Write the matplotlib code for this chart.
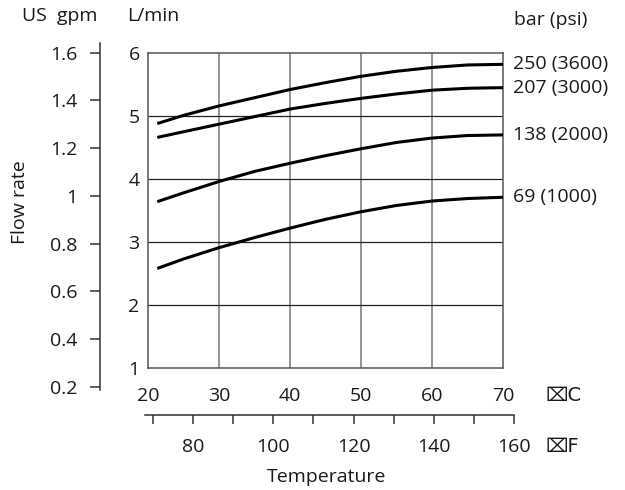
import matplotlib
matplotlib.use("Agg")
import matplotlib.pyplot as plt
import numpy as np

plt.rcParams['font.family'] = ['Open Sans', 'DejaVu Sans']

# Data (temperature in °C, flow in L/min)
temps = [21.3, 25, 30, 35, 40, 45, 50, 55, 60, 65, 70]
flow_250 = [4.88, 5.01, 5.16, 5.29, 5.42, 5.53, 5.63, 5.71, 5.77, 5.81, 5.82]
flow_207 = [4.66, 4.75, 4.87, 4.99, 5.11, 5.20, 5.28, 5.35, 5.41, 5.44, 5.45]
flow_138 = [3.64, 3.78, 3.96, 4.12, 4.25, 4.37, 4.48, 4.58, 4.65, 4.69, 4.70]
flow_69 = [2.58, 2.73, 2.91, 3.07, 3.22, 3.36, 3.48, 3.58, 3.65, 3.69, 3.71]
series = [flow_250, flow_207, flow_138, flow_69]
series_labels = ["250 (3600)", "207 (3000)", "138 (2000)", "69 (1000)"]

c_ticks = [20, 30, 40, 50, 60, 70]
l_ticks = [1, 2, 3, 4, 5, 6]
gpm_ticks = [0.2, 0.4, 0.6, 0.8, 1, 1.2, 1.4, 1.6]
gpm_labels = ["0.2", "0.4", "0.6", "0.8", "1", "1.2", "1.4", "1.6"]
f_major = [80, 100, 120, 140, 160]
f_minor = [70, 90, 110, 130, 150]

W, H = 625, 490
fig = plt.figure(figsize=(W / 100, H / 100), dpi=100)

def rect(x0, y0, x1, y1):
    return [x0 / W, 1 - y1 / H, (x1 - x0) / W, (y1 - y0) / H]

fs = 14
tc = '#1a1a1a'

# Main axes
ax = fig.add_axes(rect(148, 53, 503, 368))
ax.set_xlim(20, 70)
ax.set_ylim(1, 6)
ax.set_xticks(c_ticks)
ax.set_yticks(l_ticks)
ax.set_xticklabels([str(t) for t in c_ticks])
ax.set_yticklabels([str(t) for t in l_ticks])
ax.tick_params(axis='x', length=0, pad=14, labelsize=fs, labelcolor=tc)
ax.tick_params(axis='y', length=0, pad=6, labelsize=fs, labelcolor=tc)
for t in c_ticks[1:-1]:
    ax.axvline(t, color='#777777', lw=1.1, zorder=1)
for t in l_ticks[1:-1]:
    ax.axhline(t, color='#222222', lw=0.9, zorder=1)
for s in ax.spines.values():
    s.set_color('#555555')
    s.set_linewidth(1.1)
for vals, lab in zip(series, series_labels):
    ax.plot(temps, vals, color='black', lw=2.2, solid_capstyle='butt',
            solid_joinstyle='round', zorder=3)
    ax.annotate(lab, xy=(70, vals[-1]), xytext=(7, 0), textcoords='offset points',
                va='center', ha='left', fontsize=fs, color=tc, annotation_clip=False)

# gpm axis
axg = fig.add_axes(rect(100, 42.7, 101, 390))
scale = (386.7 - 52.7) / 1.4
axg.set_ylim(0.2 - (390 - 386.7) / scale, 1.6 + (52.7 - 42.7) / scale)
axg.set_xticks([])
axg.set_yticks(gpm_ticks)
axg.set_yticklabels(gpm_labels)
axg.tick_params(axis='y', direction='out', length=7.2, width=1.1, color='#333333',
                pad=9, labelsize=fs, labelcolor=tc)
for k in ['top', 'right', 'bottom']:
    axg.spines[k].set_visible(False)
axg.spines['left'].set_color('#333333')
axg.spines['left'].set_linewidth(1.1)
axg.patch.set_visible(False)

# °F axis
axf = fig.add_axes(rect(145, 414, 514, 415))
pxf = (514 - 153) / 90
axf.set_xlim(70 - 8 / pxf, 160)
axf.set_yticks([])
axf.set_xticks(f_major)
axf.set_xticklabels([str(t) for t in f_major])
axf.set_xticks(f_minor, minor=True)
axf.tick_params(axis='x', which='both', direction='out', length=6.5, width=1.1,
                color='#333333', pad=10, labelsize=fs, labelcolor=tc)
for k in ['top', 'right', 'left']:
    axf.spines[k].set_visible(False)
axf.spines['bottom'].set_color('#333333')
axf.spines['bottom'].set_linewidth(1.1)
axf.patch.set_visible(False)

def ftext(x, y, s, **kw):
    fig.text(x / W, 1 - y / H, s, fontsize=fs, color=tc, **kw)

ftext(60, 16, "US  gpm", ha='center', va='center')
ftext(153, 16, "L/min", ha='center', va='center')
ftext(514, 20, "bar (psi)", ha='left', va='center')
ftext(20, 202, "Flow rate", ha='center', va='center', rotation=90)
ftext(546, 395, "\u2327C", ha='left', va='center', family=['DejaVu Sans'])
ftext(546, 447, "\u2327F", ha='left', va='center', family=['DejaVu Sans'])
ftext(327, 477, "Temperature", ha='center', va='center')

fig.savefig("out.png", dpi=100)
